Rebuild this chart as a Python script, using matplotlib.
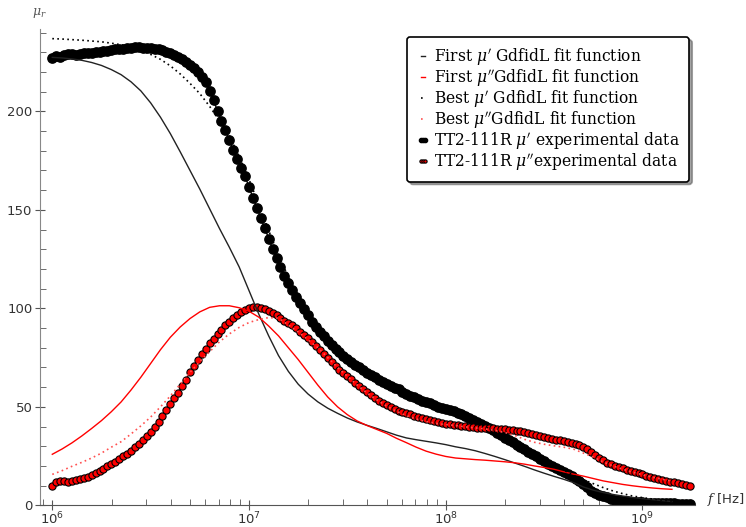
import matplotlib
matplotlib.use("Agg")
import matplotlib.pyplot as plt
import numpy as np
from matplotlib.ticker import MultipleLocator, LogLocator

plt.rcParams["mathtext.fontset"] = "dejavuserif"

# fit functions, log-spaced from 1e6 to 10**9.15 Hz (step 0.05 decade)
first_mu1 = [
    227.4, 227.1, 226.6, 225.9, 224.8, 223.3, 221.2, 218.6, 215.0, 210.4,
    204.3, 197.0, 188.7, 179.5, 170.0, 160.5, 150.5, 140.5, 131.0, 121.0,
    109.0, 97.0, 86.0, 76.0, 68.0, 61.5, 56.5, 52.5, 49.3, 46.7,
    44.3, 42.3, 40.6, 39.0, 37.3, 35.6, 34.2, 33.3, 32.5, 31.7,
    30.8, 29.7, 28.8, 27.7, 26.3, 24.8, 23.2, 21.5, 19.8, 18.0,
    16.3, 14.7, 13.2, 11.5, 9.3, 7.7, 6.5, 5.5, 4.7, 4.0,
    3.4, 2.9, 2.4, 1.9,
]
first_mu2 = [
    25.9, 28.6, 31.7, 35.2, 39.0, 43.0, 47.5, 52.5, 58.5, 65.0,
    72.0, 79.0, 85.3, 90.5, 94.8, 98.2, 100.5, 101.3, 101.3, 100.3,
    98.5, 95.5, 91.0, 86.0, 80.0, 74.0, 67.5, 61.0, 55.0, 50.0,
    46.0, 42.8, 40.5, 38.5, 36.5, 34.0, 31.8, 29.5, 27.5, 26.0,
    24.8, 24.0, 23.6, 23.2, 22.9, 22.5, 22.1, 21.6, 20.9, 20.0,
    19.2, 18.3, 17.0, 15.8, 14.8, 13.6, 12.4, 11.5, 10.6, 9.9,
    9.3, 8.8, 8.4, 8.1,
]
best_mu1 = [
    236.9, 236.7, 236.4, 236.1, 235.7, 235.3, 234.6, 233.8, 232.8, 231.3,
    228.9, 226.4, 223.1, 219.0, 214.2, 209.0, 202.5, 195.2, 187.5, 177.0,
    165.5, 152.5, 139.5, 127.0, 116.0, 106.5, 98.5, 91.0, 85.0, 79.8,
    75.3, 71.5, 68.0, 65.0, 62.3, 59.8, 57.2, 55.0, 52.8, 50.8,
    48.8, 46.8, 44.6, 42.3, 40.0, 37.5, 34.8, 32.0, 29.2, 26.4,
    23.6, 20.5, 17.8, 15.2, 12.9, 11.0, 9.0, 7.3, 5.9, 4.7,
    3.9, 3.2, 2.6, 2.1,
]
best_mu2 = [
    15.7, 17.6, 19.8, 21.8, 24.0, 26.5, 29.5, 32.3, 36.2, 40.3,
    44.8, 50.0, 55.5, 61.5, 67.5, 73.0, 78.0, 83.0, 87.0, 90.3,
    92.8, 94.3, 95.3, 95.0, 91.5, 88.0, 84.0, 80.0, 75.0, 70.0,
    65.5, 61.0, 57.0, 53.5, 50.3, 47.7, 45.5, 43.8, 42.5, 41.6,
    41.0, 40.5, 39.8, 39.3, 38.8, 38.0, 37.0, 35.5, 33.5, 32.0,
    31.0, 30.2, 29.5, 28.5, 26.5, 24.5, 22.0, 20.0, 18.3, 16.8,
    15.5, 14.3, 13.2, 12.3,
]

# measured TT2-111R data, log sweep 1e6 .. 10**9.24 Hz (step 0.02 decade)
exp_mu1 = [
    227.0, 228.1, 227.6, 228.4, 228.9, 229.0, 228.6, 229.1, 229.5, 229.6,
    229.5, 229.9, 230.2, 230.4, 230.7, 231.2, 231.6, 231.8, 231.9, 232.1,
    232.3, 232.5, 232.5, 232.4, 232.3, 232.1, 231.8, 231.4, 230.9, 230.3,
    229.6, 228.7, 227.7, 226.6, 225.2, 223.6, 221.9, 219.8, 217.6, 214.9,
    210.5, 205.6, 200.2, 195.2, 190.3, 185.3, 180.3, 175.7, 171.4, 167.1,
    161.5, 156.2, 151.1, 145.9, 140.7, 135.4, 130.3, 125.4, 120.8, 116.6,
    112.8, 109.4, 106.0, 102.7, 99.5, 96.4, 93.2, 90.4, 88.0, 85.7,
    83.4, 81.3, 79.4, 77.6, 75.9, 74.2, 72.8, 71.4, 70.0, 68.7,
    67.4, 66.1, 64.9, 63.7, 62.6, 61.6, 60.6, 59.7, 58.8, 57.7,
    56.7, 55.7, 54.8, 54.0, 53.2, 52.4, 51.7, 50.9, 50.1, 49.5,
    48.9, 48.3, 47.8, 47.1, 46.3, 45.3, 44.3, 43.2, 42.2, 41.2,
    40.2, 39.2, 38.0, 36.8, 35.6, 34.4, 33.2, 32.0, 30.8, 29.6,
    28.4, 27.2, 26.1, 24.9, 23.7, 22.5, 21.2, 20.0, 18.9, 17.8,
    16.8, 15.8, 14.7, 13.6, 12.4, 10.9, 9.2, 7.5, 6.2, 5.3,
    4.6, 4.0, 3.4, 2.9, 2.5, 2.2, 2.0, 1.9, 1.7, 1.6,
    1.5, 1.4, 1.3, 1.3, 1.2, 1.1, 1.1, 1.0, 1.0, 0.9,
    0.85, 0.8, 0.75,
]
exp_mu2 = [
    10.0, 11.6, 12.2, 12.1, 11.9, 12.5, 12.9, 13.4, 13.9, 14.5,
    15.4, 16.3, 17.4, 18.5, 19.7, 21.0, 22.2, 23.5, 24.8, 26.2,
    27.6, 29.4, 31.2, 33.1, 35.1, 37.1, 39.8, 42.5, 45.3, 48.3,
    51.3, 54.3, 57.2, 60.4, 63.8, 67.6, 70.7, 73.8, 76.8, 79.5,
    82.2, 84.6, 87.0, 89.2, 91.3, 93.3, 95.2, 96.8, 98.2, 99.4,
    100.2, 100.5, 100.6, 100.4, 99.8, 98.6, 97.6, 96.4, 95.1, 93.8,
    92.8, 91.3, 89.8, 88.2, 86.6, 84.8, 82.9, 80.8, 78.8, 76.8,
    74.8, 72.7, 70.7, 68.9, 67.2, 65.5, 63.9, 62.3, 60.7, 59.1,
    57.4, 55.8, 54.4, 53.2, 52.0, 50.8, 49.8, 48.9, 48.1, 47.3,
    46.7, 46.1, 45.5, 44.9, 44.4, 43.8, 43.3, 42.8, 42.3, 41.9,
    41.5, 41.2, 40.9, 40.7, 40.3, 40.1, 39.9, 39.6, 39.4, 39.3,
    39.2, 39.1, 39.0, 38.9, 38.8, 38.6, 38.4, 38.1, 37.9, 37.6,
    37.2, 36.7, 36.2, 35.6, 35.1, 34.6, 34.1, 33.6, 33.2, 32.9,
    32.6, 32.3, 31.8, 31.3, 30.7, 29.8, 28.5, 27.0, 25.5, 24.1,
    22.8, 21.7, 20.8, 20.0, 19.3, 18.7, 18.1, 17.5, 16.9, 16.2,
    15.7, 15.1, 14.6, 14.0, 13.5, 13.0, 12.5, 12.0, 11.6, 11.1,
    10.7, 10.3, 9.9,
]

f_fit = np.logspace(6, 9.15, len(first_mu1))
f_exp = np.logspace(6, 9.24, len(exp_mu1))

W, H = 746, 527
fig = plt.figure(figsize=(W / 100, H / 100), dpi=100)
ax = fig.add_axes([40 / W, (H - 505.3) / H, 655 / W, (505.3 - 29) / H])
ax.set_xscale("log")
ax.set_xlim(8.66e5, 1.85e9)
ax.set_ylim(0, 241.8)

h_exp1, = ax.plot(f_exp, exp_mu1, "-o", color="black", ms=6.7, lw=1, zorder=2)
h_exp2, = ax.plot(f_exp, exp_mu2, "-o", color="black", mfc="red", mec="black",
                  mew=0.8, ms=5.2, lw=1, zorder=2)
h_f1, = ax.plot(f_fit, first_mu1, color="#222222", lw=1, zorder=3)
h_f2, = ax.plot(f_fit, first_mu2, color="red", lw=1, zorder=3)
h_b1, = ax.plot(f_fit, best_mu1, color="black", lw=1.2, ls=(0, (1, 2)), zorder=3)
h_b2, = ax.plot(f_fit, best_mu2, color="#ff5050", lw=1.2, ls=(0, (1, 2)), zorder=3)

for side in ("top", "right"):
    ax.spines[side].set_visible(False)
ax.spines["left"].set_color("#888888")
ax.spines["bottom"].set_color("#555555")

ax.yaxis.set_major_locator(MultipleLocator(50))
ax.yaxis.set_minor_locator(MultipleLocator(10))
ax.xaxis.set_major_locator(LogLocator(base=10))
ax.xaxis.set_minor_locator(LogLocator(base=10, subs=np.arange(2, 10)))
ax.tick_params(which="major", direction="inout", length=7, width=0.8,
               color="#555555", labelsize=9.5, labelcolor="#333333", pad=2)
ax.tick_params(axis="x", which="major", pad=0.5)
ax.tick_params(which="minor", direction="in", length=4, width=0.6, color="#555555")

fig.text(39 / W, 1 - 13 / H, r"$\mu_r$", ha="center", va="center",
         fontsize=9, color="#555555")
fig.text(726 / W, 1 - 500 / H, r"$f$ [Hz]", ha="center", va="center",
         fontsize=9.5, color="#333333")

handles = [h_f1, h_f2, h_b1, h_b2, h_exp1, h_exp2]
labels = [
    r"First $\mu'$ GdfidL fit function",
    r"First $\mu''$GdfidL fit function",
    r"Best $\mu'$ GdfidL fit function",
    r"Best $\mu''$GdfidL fit function",
    r"TT2-111R $\mu'$ experimental data",
    r"TT2-111R $\mu''$experimental data",
]
leg = ax.legend(handles, labels, loc="upper left",
                bbox_to_anchor=(407 / W, 1 - 37 / H), bbox_transform=fig.transFigure,
                prop={"family": "DejaVu Serif", "size": 11.2},
                handlelength=0.85, handletextpad=0.3, borderpad=0.6,
                labelspacing=0.0, numpoints=3, markerscale=0.45,
                fancybox=True, shadow=True, framealpha=1, borderaxespad=0)
leg.get_frame().set_edgecolor("black")
leg.get_frame().set_linewidth(1.2)

fig.savefig("out.png", dpi=100)
